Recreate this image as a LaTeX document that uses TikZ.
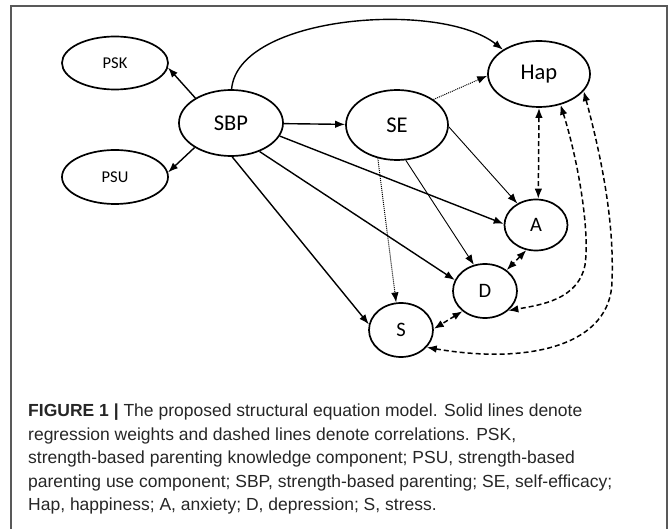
\documentclass[tikz,border=0pt]{standalone}
\usepackage{fontspec}
\setmainfont{Liberation Sans}
\newfontfamily\diagfont{Carlito}
\usetikzlibrary{arrows.meta,shapes.geometric}
\tikzset{
  latent/.style={ellipse, draw, line width=1.7pt, inner sep=0pt, font=\diagfont\fontsize{22.5}{24}\selectfont},
  small/.style={latent, font=\diagfont\fontsize{16.5}{18}\selectfont},
  mid/.style={latent, font=\diagfont\fontsize{20.5}{22}\selectfont},
  reg/.style={line width=1.4pt, -{Latex[length=10pt,width=7.5pt]}},
  thinreg/.style={line width=0.9pt, -{Latex[length=10pt,width=7.5pt]}},
  dotreg/.style={line width=1pt, densely dotted, -{Latex[length=10pt,width=7.5pt]}},
  corr/.style={line width=1.5pt, dash pattern=on 5pt off 3pt, {Latex[length=10pt,width=7.5pt]}-{Latex[length=10pt,width=7.5pt]}},
  captxt/.style={anchor=base west, inner sep=0pt, text=black!85, font=\fontsize{17.5}{20}\selectfont}
}
\begin{document}
\begin{tikzpicture}[x=1pt,y=-1pt]
\useasboundingbox (0,0) rectangle (670,529);
\draw[black!65, line width=1.1pt] (11,529) -- (11,6) -- (667,6) -- (667,529);

\node[small, minimum width=106pt, minimum height=53pt] (PSK) at (115,63) {PSK};
\node[small, minimum width=106pt, minimum height=54pt] (PSU) at (115,177) {PSU};
\node[latent, minimum width=104pt, minimum height=66pt] (SBP) at (231,123) {SBP};
\node[latent, minimum width=102pt, minimum height=70pt] (SE) at (397,125) {SE};
\node[latent, minimum width=102pt, minimum height=66pt] (Hap) at (539,74) {Hap};
\node[mid, minimum width=63pt, minimum height=51pt] (A) at (536,225) {A};
\node[mid, minimum width=64pt, minimum height=54pt] (D) at (485,291) {D};
\node[mid, minimum width=64pt, minimum height=54pt] (S) at (401,330) {S};

% regressions from SBP
\draw[reg] (SBP.145) -- (PSK.-5);
\draw[reg] (SBP.214) -- (PSU.5);
\draw[reg] (SBP.89) .. controls (238,15) and (440,0) .. (Hap.146);
\draw[reg] (SBP) -- (SE);
\draw[reg] (SBP.-15) -- (A.178);
\draw[reg] (SBP.-45) -- (D.160);
\draw[reg] (SBP.-88) -- (S.170);

% regressions from SE
\draw[dotreg] (SE.35) -- (Hap.182);
\draw[thinreg] (SE.-2) -- (A.131);
\draw[thinreg] (SE.-76) -- (D.113);
\draw[dotreg] (SE.-120) -- (S.100);

% correlations
\draw[corr] (Hap.-90) -- (A.85);
\draw[corr] (A.-111) -- (D.44);
\draw[corr] (D.222) -- (S.2);
\draw[corr] (Hap.-55) .. controls (578,160) and (590,230) .. (585,265) .. controls (578,300) and (540,305) .. (D.-40);
\draw[corr] (Hap.-21) .. controls (605,170) and (614,230) .. (612,280) .. controls (612,345) and (530,365) .. (S.-34);

% caption
\node[captxt] (c1) at (28,417) {\textbf{FIGURE 1 |} The proposed structural equation model. Solid lines denote};
\node[captxt] (c2) at (28,440.5) {regression weights and dashed lines denote correlations. PSK,};
\node[captxt] (c3) at (28,464) {strength-based parenting knowledge component; PSU, strength-based};
\node[captxt] (c4) at (28,487.5) {parenting use component; SBP, strength-based parenting; SE, self-efficacy;};
\node[captxt] (c5) at (28,511) {Hap, happiness; A, anxiety; D, depression; S, stress.};
\end{tikzpicture}
\end{document}
